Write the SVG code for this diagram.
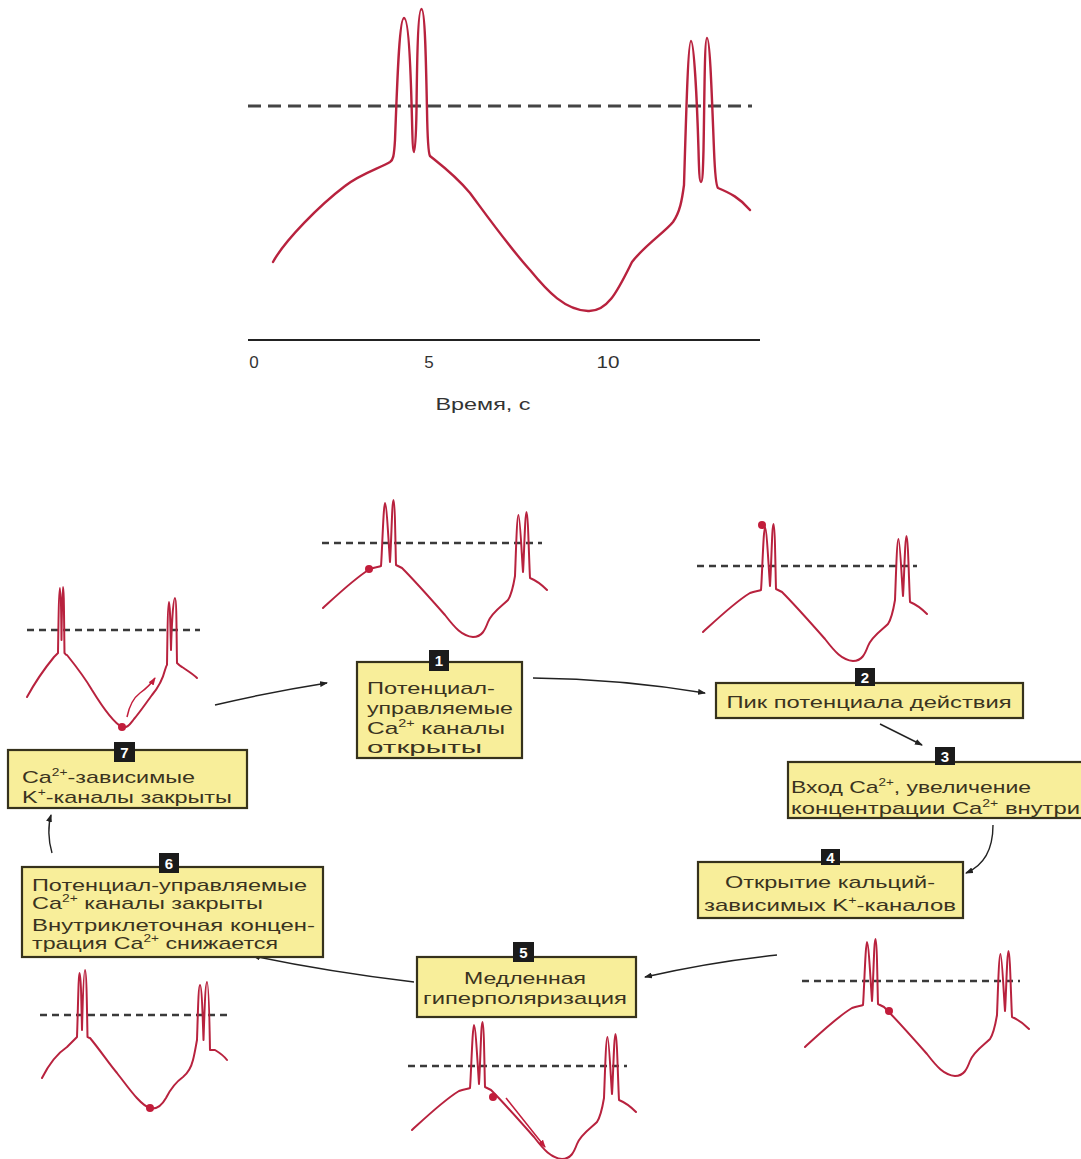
<svg xmlns="http://www.w3.org/2000/svg" xmlns:xlink="http://www.w3.org/1999/xlink" width="1081" height="1159" viewBox="0 0 1081 1159">
<style>
.wave{fill:none;stroke:#b8223e;stroke-width:2;stroke-linejoin:round;stroke-linecap:round}
.big{stroke-width:2.4}
.dash{stroke:#3a3a3a;stroke-width:2.4;stroke-dasharray:7 5}
.dashbig{stroke:#444;stroke-width:3;stroke-dasharray:13 7}
.dot{fill:#c21d3b}
.box{fill:#f8ee9a;stroke:#36321c;stroke-width:2.2}
.badge{fill:#1b1b1b}
.bn{font-family:"Liberation Sans",Arial,sans-serif;font-size:15px;font-weight:bold;fill:#fff;text-anchor:middle}
.t{font-family:"Liberation Sans",Arial,sans-serif;font-size:17px;fill:#3a3320}
.c{text-anchor:middle}
.sup{font-size:10px}
.ax{font-family:"Liberation Sans",Arial,sans-serif;font-size:17px;fill:#333;text-anchor:middle}
.con{fill:none;stroke:#222;stroke-width:1.4}
.redarrow{fill:none;stroke:#c21d3b;stroke-width:1.5}
</style>
<defs>
<marker id="ah" markerWidth="8" markerHeight="6" refX="7" refY="3" orient="auto" markerUnits="userSpaceOnUse">
<path d="M0,0 L8,3 L0,6 z" fill="#222"/>
</marker>
<marker id="ahr" markerWidth="8" markerHeight="6" refX="7" refY="3" orient="auto" markerUnits="userSpaceOnUse">
<path d="M0,0 L8,3 L0,6 z" fill="#c21d3b"/>
</marker>
<path id="sw" d="M323,608 C335,597 355,578 370,569 C375,567 379,567 381,566 C382,555 383.5,503 385,503 C386.5,503 388.5,540 390,562 C391.5,540 392,500 393.5,500 C395,500 395.5,550 396,565 C398,566 400,567 402,568 C412,578 430,598 445,615 C455,628 462,636 473,637 C482,637 485,630 488,622 C492,612 502,606 508,600 C512,594 514,582 515,576 C516,550 517,515 518.5,515 C520,515 522,560 523,572 C524,560 525,512 526.5,512 C528,512 529,560 530,578 C535,580 540,583 547,590"/>
</defs>

<g id="main-graph">
<line class="dashbig" x1="248" y1="106" x2="752" y2="106"/>
<path class="wave big" d="M273,262 C285,240 320,205 345,186 C360,174 380,168 390,162 C393,160 394,157 395,140 C397,90 399,18 404,18 C409,18 411,80 412,120 C412.5,140 413,152 414,152 C415,152 416,140 416.5,110 C417,60 418,9 421.5,9 C425,9 426,60 427,110 C427.5,140 428,153 430,156 C440,164 455,175 470,193 C490,220 510,248 530,270 C548,292 565,310 588,311 C608,312 618,290 632,262 C645,245 665,232 673,222 C680,212 682,200 684,185 C686,120 688,41 691,41 C694,41 697,100 698.5,150 C699,170 699.5,182 701,182 C702.5,182 703,170 703.5,150 C704.5,100 704.5,38 707,38 C710,38 712,100 714,150 C715,175 716,186 718,188 C730,193 740,198 750,210"/>
<line x1="248" y1="340" x2="760" y2="340" stroke="#222" stroke-width="2"/>
<text class="ax" x="254" y="368">0</text>
<text class="ax" x="429" y="368">5</text>
<text class="ax" x="608" y="368" textLength="23" lengthAdjust="spacingAndGlyphs">10</text>
<text class="ax" x="483" y="410" textLength="95" lengthAdjust="spacingAndGlyphs">Время, с</text>
</g>

<g id="panel1">
<line class="dash" x1="322" y1="543" x2="542" y2="543"/>
<use href="#sw" class="wave"/>
<circle class="dot" cx="369" cy="569" r="4"/>
</g>
<g id="panel2">
<line class="dash" x1="697" y1="566" x2="917" y2="566"/>
<use href="#sw" class="wave" transform="translate(380,24)"/>
<circle class="dot" cx="762" cy="525" r="4"/>
</g>
<g id="panel3">
<line class="dash" x1="802" y1="981" x2="1020" y2="981"/>
<use href="#sw" class="wave" transform="translate(482,439)"/>
<circle class="dot" cx="889" cy="1011" r="4"/>
</g>
<g id="panel4">
<line class="dash" x1="408" y1="1066" x2="627" y2="1066"/>
<use href="#sw" class="wave" transform="translate(89,522)"/>
<circle class="dot" cx="493" cy="1097" r="4"/>
<path class="redarrow" d="M506,1098 L545,1147" marker-end="url(#ahr)"/>
</g>
<g id="panel5">
<line class="dash" x1="40" y1="1015" x2="228" y2="1015"/>
<path class="wave" d="M42,1078 C46,1070 55,1055 67,1047 C71,1043 74,1040 77,1037 C78,1010 78.5,973 79.5,973 C81,973 81.5,1010 82,1030 C82.5,1010 83.5,970 85,970 C86.5,970 87,1010 87.5,1037 C89,1038 89.5,1038 90,1038 C100,1050 110,1065 117,1073 C128,1087 140,1105 150,1108 C157,1110 162,1105 166,1098 C170,1090 176,1082 183,1077 C188,1073 191,1068 193,1060 C195,1052 196,1045 197,1040 C198,1010 198.5,985 200,985 C201.5,985 202.5,1010 203.5,1040 C204.5,1010 205.5,982 207,982 C208.5,982 209.5,1020 210,1050 C212,1050 214,1050 215,1050 C220,1053 224,1056 227,1060"/>
<circle class="dot" cx="150" cy="1108" r="4"/>
</g>
<g id="panel6">
<line class="dash" x1="27" y1="630" x2="200" y2="630"/>
<path class="wave" d="M27,697 C33,686 45,668 54,657 C56,655 57,654 58,653 C58.5,620 59,588 60,588 C61,588 61.3,620 61.5,640 C61.7,620 62.3,587 63,587 C64,587 64,620 64.5,653 C65.5,654 66,655 67,655 C75,665 85,678 92,690 C100,703 112,722 122,727 C127,729 130,724 134,719 C140,712 146,703 152,695 C157,689 162,682 165,670 C166,667 166.5,665 167,665 C167.5,630 168,602 169,602 C170,602 170.5,630 171,650 C171.5,630 173,598 175,598 C176.5,598 176.5,630 177,663 C179,665 180,666 182,667 C188,671 193,674 197,678"/>
<circle class="dot" cx="122" cy="727" r="4"/>
<path class="redarrow" d="M127,717 C129,707 132,699 140,693 C147,688 151,684 155,678" marker-end="url(#ahr)"/>
</g>

<g id="connectors">
<path class="con" d="M215,705 Q270,692 327,683" marker-end="url(#ah)"/>
<path class="con" d="M533,678 Q620,679 705,693" marker-end="url(#ah)"/>
<path class="con" d="M880,724 L922,745" marker-end="url(#ah)"/>
<path class="con" d="M993,825 C993,848 985,865 966,873" marker-end="url(#ah)"/>
<path class="con" d="M777,955 Q710,962 645,977" marker-end="url(#ah)"/>
<path class="con" d="M414,982 Q330,972 253,956" marker-end="url(#ah)"/>
<path class="con" d="M52,853 C48,840 48,825 51,815" marker-end="url(#ah)"/>
</g>

<g id="node1">
<rect class="box" x="357" y="662" width="165" height="96"/>
<rect class="badge" x="429" y="650" width="20" height="21"/>
<text class="bn" x="439" y="666">1</text>
<text class="t" x="367" y="694" textLength="128" lengthAdjust="spacingAndGlyphs">Потенциал-</text>
<text class="t" x="367" y="714" textLength="146" lengthAdjust="spacingAndGlyphs">управляемые</text>
<text class="t" x="367" y="734" textLength="138" lengthAdjust="spacingAndGlyphs">Ca<tspan class="sup" dy="-7">2+</tspan><tspan dy="7"> каналы</tspan></text>
<text class="t" x="367" y="753" textLength="115" lengthAdjust="spacingAndGlyphs">открыты</text>
</g>
<g id="node2">
<rect class="box" x="716" y="683" width="307" height="35"/>
<rect class="badge" x="855" y="668" width="20" height="18"/>
<text class="bn" x="865" y="683">2</text>
<text class="t c" x="869" y="708" textLength="285" lengthAdjust="spacingAndGlyphs">Пик потенциала действия</text>
</g>
<g id="node3">
<rect class="box" x="788" y="762" width="300" height="56"/>
<rect class="badge" x="935" y="747" width="20" height="18"/>
<text class="bn" x="945" y="762">3</text>
<text class="t" x="791" y="793" textLength="240" lengthAdjust="spacingAndGlyphs">Вход Ca<tspan class="sup" dy="-7">2+</tspan><tspan dy="7">, увеличение</tspan></text>
<text class="t" x="791" y="814" textLength="289" lengthAdjust="spacingAndGlyphs">концентрации Ca<tspan class="sup" dy="-7">2+</tspan><tspan dy="7"> внутри</tspan></text>
</g>
<g id="node4">
<rect class="box" x="698" y="862" width="265" height="56"/>
<rect class="badge" x="821" y="849" width="19" height="16"/>
<text class="bn" x="830.5" y="863">4</text>
<text class="t c" x="830" y="888" textLength="210" lengthAdjust="spacingAndGlyphs">Открытие кальций-</text>
<text class="t c" x="830" y="911" textLength="252" lengthAdjust="spacingAndGlyphs">зависимых K<tspan class="sup" dy="-7">+</tspan><tspan dy="7">-каналов</tspan></text>
</g>
<g id="node5">
<rect class="box" x="417" y="957" width="219" height="60"/>
<rect class="badge" x="513" y="942" width="21" height="20"/>
<text class="bn" x="523.5" y="958">5</text>
<text class="t c" x="525" y="984" textLength="122" lengthAdjust="spacingAndGlyphs">Медленная</text>
<text class="t c" x="525" y="1004" textLength="204" lengthAdjust="spacingAndGlyphs">гиперполяризация</text>
</g>
<g id="node6">
<rect class="box" x="22" y="867" width="301" height="90"/>
<rect class="badge" x="159" y="853" width="20" height="20"/>
<text class="bn" x="169" y="869">6</text>
<text class="t" x="32" y="891" textLength="275" lengthAdjust="spacingAndGlyphs">Потенциал-управляемые</text>
<text class="t" x="32" y="909" textLength="231" lengthAdjust="spacingAndGlyphs">Ca<tspan class="sup" dy="-7">2+</tspan><tspan dy="7"> каналы закрыты</tspan></text>
<text class="t" x="32" y="931" textLength="283" lengthAdjust="spacingAndGlyphs">Внутриклеточная концен-</text>
<text class="t" x="32" y="949" textLength="246" lengthAdjust="spacingAndGlyphs">трация Ca<tspan class="sup" dy="-7">2+</tspan><tspan dy="7"> снижается</tspan></text>
</g>
<g id="node7">
<rect class="box" x="8" y="750" width="239" height="58"/>
<rect class="badge" x="114" y="742" width="21" height="20"/>
<text class="bn" x="124.5" y="758">7</text>
<text class="t" x="22" y="783" textLength="173" lengthAdjust="spacingAndGlyphs">Ca<tspan class="sup" dy="-7">2+</tspan><tspan dy="7">-зависимые</tspan></text>
<text class="t" x="22" y="803" textLength="210" lengthAdjust="spacingAndGlyphs">K<tspan class="sup" dy="-7">+</tspan><tspan dy="7">-каналы закрыты</tspan></text>
</g>
</svg>
